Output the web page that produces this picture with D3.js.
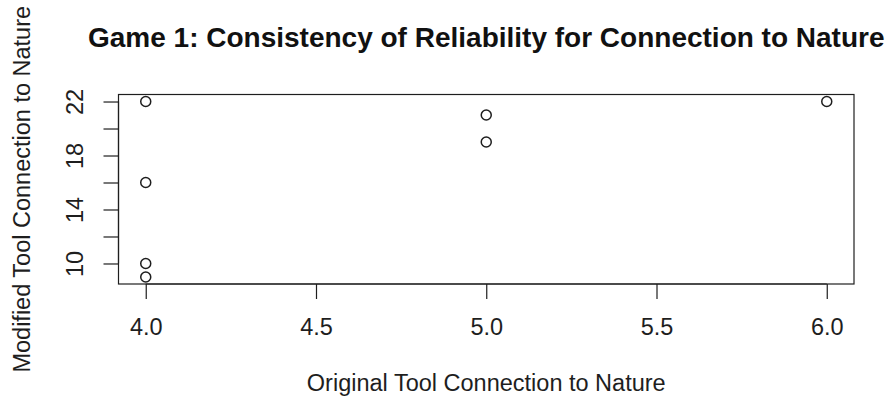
<!DOCTYPE html>
<html><head><meta charset="utf-8">
<script src="https://cdn.jsdelivr.net/npm/d3@7"></script>
<style>body{margin:0;background:#fff}svg{display:block}</style>
</head><body>
<script>
const title = "Game 1: Consistency of Reliability for Connection to Nature";
const xLabel = "Original Tool Connection to Nature";
const yLabel = "Modified Tool Connection to Nature";
const xValues = [4, 4, 4, 4, 5, 5, 6];
const yValues = [22, 16, 10, 9, 21, 19, 22];
const xTicks = [4.0, 4.5, 5.0, 5.5, 6.0];
const yTicks = [10, 12, 14, 16, 18, 20, 22];
const yTickLabels = [10, 14, 18, 22];

const W = 888, H = 400;
const box = {l: 118.5, r: 854, t: 94.5, b: 284};
const svg = d3.select("body").append("svg").attr("width", W).attr("height", H);
const font = "'Liberation Sans', Arial, sans-serif";
const ink = "#1e1e1e";
const base = 23.5;

const xExt = d3.extent(xValues), yExt = d3.extent(yValues);
const xPad = (xExt[1]-xExt[0])*0.04, yPad = (yExt[1]-yExt[0])*0.04;
const x = d3.scaleLinear().domain([xExt[0]-xPad, xExt[1]+xPad]).range([box.l, box.r]);
const y = d3.scaleLinear().domain([yExt[0]-yPad, yExt[1]+yPad]).range([box.b, box.t]);

svg.append("rect").attr("x", box.l).attr("y", box.t).attr("width", box.r-box.l).attr("height", box.b-box.t)
  .attr("fill", "none").attr("stroke", ink).attr("stroke-width", 1.2);

// x axis
const xAxis = d3.axisBottom(x).tickValues(xTicks).tickSize(15).tickFormat(d3.format(".1f"));
const gx = svg.append("g").attr("transform", `translate(0,${box.b})`).call(xAxis);
gx.select(".domain").attr("d", `M${x(xTicks[0])},0H${x(xTicks[xTicks.length-1])}`).attr("stroke", ink).attr("stroke-width", 1.2);
gx.selectAll(".tick line").attr("stroke", ink).attr("stroke-width", 1.2);
gx.selectAll(".tick text").attr("fill", ink).style("font-family", font).style("font-size", base + "px")
  .attr("y", 51).attr("dy", "0");

// y axis
const yAxis = d3.axisLeft(y).tickValues(yTicks).tickSize(15).tickPadding(0)
  .tickFormat(d => yTickLabels.includes(d) ? d : "");
const gy = svg.append("g").attr("transform", `translate(${box.l},0)`).call(yAxis);
gy.select(".domain").attr("d", `M0,${y(yTicks[0])}V${y(yTicks[yTicks.length-1])}`).attr("stroke", ink).attr("stroke-width", 1.2);
gy.selectAll(".tick line").attr("stroke", ink).attr("stroke-width", 1.2);
gy.selectAll(".tick text").attr("fill", ink).style("font-family", font).style("font-size", base + "px")
  .attr("x", null).attr("dy", "0")
  .attr("transform", "translate(-36,0) rotate(-90)").attr("text-anchor", "middle");

// points
svg.append("g").selectAll("circle").data(xValues.map((v, i) => [v, yValues[i]])).join("circle")
  .attr("cx", d => x(d[0])).attr("cy", d => y(d[1])).attr("r", 5)
  .attr("fill", "none").attr("stroke", ink).attr("stroke-width", 1.5);

// labels
svg.append("text").attr("x", (box.l+box.r)/2).attr("y", 47).attr("text-anchor", "middle")
  .style("font-family", font).style("font-size", "28px").style("font-weight", "bold").attr("fill", "#111")
  .text(title);
svg.append("text").attr("x", (box.l+box.r)/2).attr("y", 391).attr("text-anchor", "middle")
  .style("font-family", font).style("font-size", base + "px").attr("fill", ink).text(xLabel);
svg.append("text").attr("transform", `translate(30,${(box.t+box.b)/2}) rotate(-90)`).attr("text-anchor", "middle")
  .style("font-family", font).style("font-size", base + "px").attr("fill", ink).text(yLabel);
</script>
</body></html>
